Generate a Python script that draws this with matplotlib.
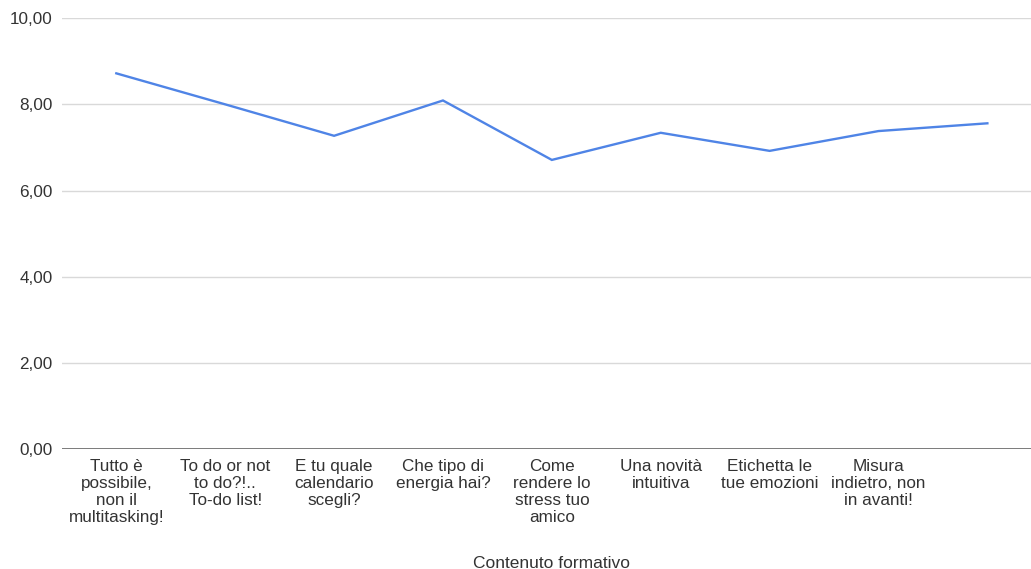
import matplotlib
matplotlib.use("Agg")
import matplotlib.pyplot as plt
from matplotlib.ticker import FuncFormatter

plt.rcParams['font.family'] = ['Liberation Sans', 'DejaVu Sans']

# Average score per training module
categories = [
    "Tutto è\npossibile,\nnon il\nmultitasking!",
    "To do or not\nto do?!..\nTo-do list!",
    "E tu quale\ncalendario\nscegli?",
    "Che tipo di\nenergia hai?",
    "Come\nrendere lo\nstress tuo\namico",
    "Una novità\nintuitiva",
    "Etichetta le\ntue emozioni",
    "Misura\nindietro, non\nin avanti!",
    "",
]
scores = [8.72, 8.00, 7.27, 8.09, 6.71, 7.34, 6.92, 7.38, 7.56]
y_ticks = [0, 2, 4, 6, 8, 10]

fig = plt.figure(figsize=(10.31, 5.69), dpi=100)
ax = fig.add_axes([0.060, 0.211, 0.9505, 0.757])

x = list(range(len(categories)))
ax.plot(x, scores, color='#4f84e6', linewidth=1.7, solid_joinstyle='miter')

ax.set_xlim(-0.5, len(categories) - 0.5)
ax.set_ylim(0, 10)
ax.set_yticks(y_ticks)
ax.yaxis.set_major_formatter(FuncFormatter(lambda v, _: f"{v:.2f}".replace('.', ',')))
ax.set_xticks(x)
ax.set_xticklabels(categories, linespacing=1.17, va='top')

ax.grid(axis='y', color='#d9d9d9', linewidth=1)
ax.set_axisbelow(True)
ax.axhline(0, color='#666666', linewidth=1.2, zorder=1)
for s in ax.spines.values():
    s.set_visible(False)
ax.tick_params(axis='both', length=0, labelsize=12.3, labelcolor='#333333')
ax.tick_params(axis='y', pad=6.5)
ax.tick_params(axis='x', pad=7.5)

ax.set_xlabel("Contenuto formativo", fontsize=12.5, color='#333333', labelpad=22)

fig.savefig("out.png", dpi=100, facecolor='white')
